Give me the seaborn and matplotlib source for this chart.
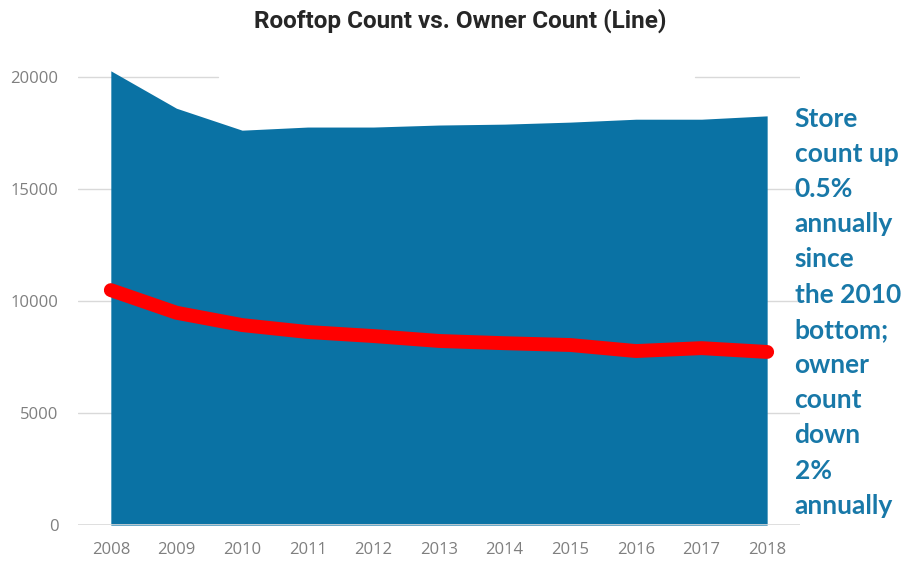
import numpy as np
import pandas as pd
import matplotlib
matplotlib.use('Agg')
import matplotlib.pyplot as plt
import seaborn as sns
from matplotlib import font_manager

# data
years = ['2008', '2009', '2010', '2011', '2012', '2013', '2014', '2015', '2016', '2017', '2018']
rooftop_count = [20280, 18610, 17630, 17770, 17770, 17860, 17900, 17990, 18120, 18120, 18270]
owner_count = [10490, 9480, 8930, 8620, 8440, 8220, 8120, 8040, 7770, 7900, 7730]

note_lines = ['Store', 'count up', '0.5%', 'annually', 'since', 'the 2010',
              'bottom;', 'owner', 'count', 'down', '2%', 'annually']

df = pd.DataFrame({'year': years, 'rooftop': rooftop_count, 'owner': owner_count})
df['pos'] = np.arange(len(df))

sns.set_style('white')
plt.rcParams['font.family'] = ['Open Sans', 'DejaVu Sans']

# condensed face for the title if there is one
names = {f.name for f in font_manager.fontManager.ttflist}
title_font = 'Liberation Sans Narrow' if 'Liberation Sans Narrow' in names else 'Roboto'

fig = plt.figure(figsize=(9.07, 5.61), dpi=100)
ax = fig.add_axes([0.086, 0.064, 0.796, 0.8385])

# gridlines (partly hidden in the reference)
grid_c = '#d9d9d9'
for v in [5000, 10000, 15000]:
    ax.axhline(v, color=grid_c, lw=1, zorder=0)
ax.axhline(20000, xmin=0, xmax=0.194, color=grid_c, lw=1, zorder=0)
ax.axhline(20000, xmin=0.855, xmax=1, color=grid_c, lw=1, zorder=0)
ax.axhline(0, color=grid_c, lw=1.2, zorder=3)

ax.fill_between(df['pos'], 0, df['rooftop'], color='#0a72a4', lw=0, zorder=1)
sns.lineplot(data=df, x='pos', y='owner', ax=ax, color='#ff0000', lw=10,
             solid_capstyle='round', solid_joinstyle='round', zorder=4)

ax.set_xlim(-0.5, len(df) - 0.5)
ax.set_ylim(0, 21000)
ax.set_xticks(df['pos'])
ax.set_xticklabels(df['year'])
ax.set_xticks(np.arange(-0.5, len(df), 1), minor=True)
ax.set_yticks([0, 5000, 10000, 15000, 20000])
ax.tick_params(axis='x', which='major', length=0, pad=12, labelsize=12, labelcolor='#7f7f7f')
ax.tick_params(axis='x', which='minor', length=5, color=grid_c, width=1)
ax.tick_params(axis='y', length=0, pad=14, labelsize=12, labelcolor='#7f7f7f')
ax.set_xlabel('')
ax.set_ylabel('')
sns.despine(ax=ax, left=True, bottom=True)

fig.suptitle('Rooftop Count vs. Owner Count (Line)', x=0.507, y=0.985,
             fontsize=17.5, fontweight='bold', family=[title_font, 'DejaVu Sans'])

fig.text(0.876, 0.81, '\n'.join(note_lines), ha='left', va='top',
         fontsize=19, fontweight='bold', color='#1878a8', linespacing=1.56,
         family=['Lato', 'DejaVu Sans'])

fig.savefig('out.png', dpi=100)
